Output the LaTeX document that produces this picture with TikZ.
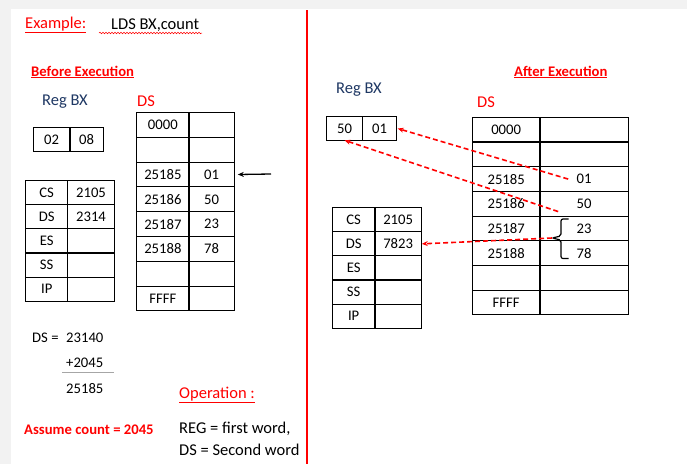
\documentclass[tikz,border=0pt]{standalone}
\usepackage{fontspec}
\setmainfont{Carlito}
\usetikzlibrary{arrows.meta,calc,decorations.pathmorphing}
\definecolor{wred}{HTML}{FF0000}
\definecolor{navy}{HTML}{1F3864}
\definecolor{pagegray}{HTML}{F2F2F2}
\newcommand\mkrow[8]{%
  \node[cell, minimum width={#3-#2}, minimum height=#6] (#1a) at (#2,#5) {#7};
  \node[cell, minimum width={#4-#3}, minimum height=#6] (#1b) at (#3,#5) {#8};}
\begin{document}
\begin{tikzpicture}[x=1pt,y=-1pt,
  cell/.style={draw, line width=1.1pt, anchor=north west, inner sep=0pt, outer sep=0pt,
    font=\fontsize{14.67}{17}\selectfont},
  lbl/.style={anchor=west, inner sep=0pt, font=\fontsize{14.67}{17}\selectfont},
  big/.style={anchor=west, inner sep=0pt, font=\fontsize{16.5}{19}\selectfont},
  bred/.style={anchor=west, inner sep=0pt, text=wred, font=\fontsize{14.67}{17}\selectfont\bfseries},
  blackarr/.style={line width=1.3pt, -{Stealth[length=6pt,width=5pt]}},
  redarr/.style={wred, line width=1.6pt, dash pattern=on 5pt off 3pt, -{Stealth[length=6pt,width=5pt]}}]
\useasboundingbox (0,0) rectangle (687,464);
\fill[pagegray] (0,0) rectangle (687,464);
\fill[white] (11,9) rectangle (687,464);
% divider
\draw[wred, line width=2.4pt] (307,10) -- (307,464);

% titles
\node[big, text=wred] (ex) at (25,25) {\underline{Example:}};
\node[big] (lds) at (111,25) {LDS BX,count};
\draw[wred, line width=0.5pt, decorate, decoration={snake, amplitude=0.8pt, segment length=3pt}] (99,33) -- (202,33);
\node[bred] (before) at (31,72) {\underline{Before Execution}};
\node[bred] (after) at (514,72) {\underline{After Execution}};

% left side
\node[big, text=navy] (lregbx) at (42,102) {Reg BX};
\node[big, text=wred] (lds2) at (137,101) {DS};
\mkrow{lbx}{33.3}{70}{103.3}{127.3}{24}{02}{08}

\mkrow{ld1}{136.7}{189}{234.3}{112.5}{24.8}{0000}{}
\mkrow{ld2}{136.7}{189}{234.3}{137.3}{24.8}{}{}
\mkrow{ld3}{136.7}{189}{234.3}{162.1}{24.8}{25185}{01}
\mkrow{ld4}{136.7}{189}{234.3}{186.9}{24.8}{25186}{50}
\mkrow{ld5}{136.7}{189}{234.3}{211.7}{24.8}{25187}{23}
\mkrow{ld6}{136.7}{189}{234.3}{236.5}{24.8}{25188}{78}
\mkrow{ld7}{136.7}{189}{234.3}{261.3}{24.8}{}{}
\mkrow{ld8}{136.7}{189}{234.3}{286.1}{24.8}{FFFF}{}

\coordinate (ptr) at (271,174);
\draw[blackarr] (ptr) -- ([xshift=3.5pt]ld3b.east);

\mkrow{lr1}{25.7}{67.7}{114.3}{180.7}{24.1}{CS}{2105}
\mkrow{lr2}{25.7}{67.7}{114.3}{204.8}{24.1}{DS}{2314}
\mkrow{lr3}{25.7}{67.7}{114.3}{228.9}{24.1}{ES}{}
\mkrow{lr4}{25.7}{67.7}{114.3}{253.0}{24.1}{SS}{}
\mkrow{lr5}{25.7}{67.7}{114.3}{277.1}{24.1}{IP}{}

\node[lbl] (dseq) at (32,337.5) {DS =};
\node[lbl] (n1) at (66,337.5) {23140};
\node[lbl] (n2) at (66,362.5) {+2045};
\draw[gray!70, line width=0.8pt] (62,372.3) -- (113.7,372.3);
\node[lbl] (n3) at (66,388.5) {25185};

\node[big, text=wred] (oper) at (179,395) {\underline{Operation :}};
\node[bred] (assume) at (24,429.5) {Assume count = 2045};
\node[big] (op1) at (179,429) {REG = first word,};
\node[big] (op2) at (179,450) {DS = Second word};

% right side
\node[big, text=navy] (rregbx) at (336,90) {Reg BX};
\node[big, text=wred] (rds2) at (477,102.5) {DS};
\mkrow{rbx}{326.7}{362.3}{396.7}{116.7}{23.6}{50}{01}

\mkrow{rd1}{472.3}{540}{628.3}{117.3}{24.7}{0000}{}
\mkrow{rd2}{472.3}{540}{628.3}{142.0}{24.7}{}{}
\mkrow{rd3}{472.3}{540}{628.3}{166.7}{24.7}{25185}{01}
\mkrow{rd4}{472.3}{540}{628.3}{191.4}{24.7}{25186}{50}
\mkrow{rd5}{472.3}{540}{628.3}{216.1}{24.7}{25187}{23}
\mkrow{rd6}{472.3}{540}{628.3}{240.8}{24.7}{25188}{78}
\mkrow{rd7}{472.3}{540}{628.3}{265.5}{24.7}{}{}
\mkrow{rd8}{472.3}{540}{628.3}{290.2}{24.7}{FFFF}{}

\mkrow{rr1}{332.3}{375}{421.3}{207.7}{24.1}{CS}{2105}
\mkrow{rr2}{332.3}{375}{421.3}{231.8}{24.1}{DS}{7823}
\mkrow{rr3}{332.3}{375}{421.3}{255.9}{24.1}{ES}{}
\mkrow{rr4}{332.3}{375}{421.3}{280.0}{24.1}{SS}{}
\mkrow{rr5}{332.3}{375}{421.3}{304.1}{24.1}{IP}{}

% brace
\coordinate (btip) at (552,238);
\draw[line width=1.2pt, rounded corners=2pt] (568.5,219) -- (561,219) -- (561,236) -- (btip) -- (561,240) -- (561,258.5) -- (568.5,258.5);

% red dashed arrows
\draw[redarr] ($(rd3b.center)+(-16,0)$) -- ([xshift=1pt]rbxb.east);
\draw[redarr] ($(rd4b.center)+(-26,7.8)$) -- (rbxa.south);
\draw[redarr] (btip) -- ([xshift=0.5pt]rr2b.east);
\end{tikzpicture}
\end{document}
